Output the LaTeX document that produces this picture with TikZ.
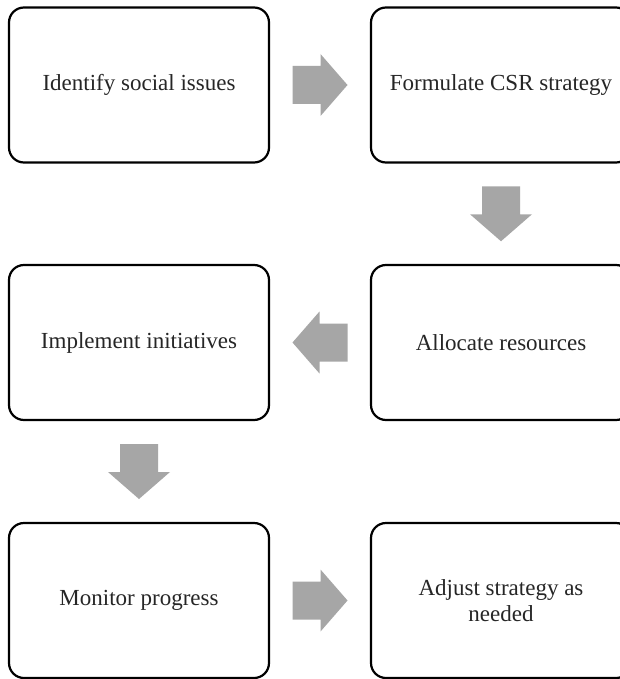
\documentclass[tikz,border=0pt]{standalone}
\usepackage{fontspec}
\setmainfont{Liberation Serif}
\usetikzlibrary{calc}
\definecolor{arrowgray}{RGB}{166,166,166}
\tikzset{
  stepbox/.style={draw=black, line width=2.2pt, rounded corners=15pt, fill=white,
    minimum width=260pt, minimum height=155pt, inner sep=0pt, align=center,
    font=\fontsize{23}{26}\selectfont, text=black!85},
  blockarrow/.pic={\fill[arrowgray] (-27.5,-19) -- (0.5,-19) -- (0.5,-31) -- (27.5,0) -- (0.5,31) -- (0.5,19) -- (-27.5,19) -- cycle;}
}
\begin{document}
\begin{tikzpicture}[x=1pt,y=-1pt]
\clip (0,0) rectangle (620,679);
\fill[white] (0,0) rectangle (620,679);
\node[stepbox] (b1) at (139,85) {Identify social issues};
\node[stepbox] (b2) at (501,85) {Formulate CSR strategy};
\node[stepbox] (b3) at (501,342.5) {Allocate resources};
\node[stepbox] (b4) at (139,342.5) {Implement initiatives};
\node[stepbox] (b5) at (139,600.5) {Monitor progress};
\node[stepbox] (b6) at (501,600.5) {Adjust strategy as\\needed};
\coordinate (m12) at ($(b1.east)!0.5!(b2.west)$);
\coordinate (m23) at ($(b2.south)!0.5!(b3.north)$);
\coordinate (m34) at ($(b3.west)!0.5!(b4.east)$);
\coordinate (m45) at ($(b4.south)!0.5!(b5.north)$);
\coordinate (m56) at ($(b5.east)!0.5!(b6.west)$);
\path (m12) pic {blockarrow};
\path (m23) pic[rotate=-90] {blockarrow};
\path (m34) pic[rotate=180] {blockarrow};
\path (m45) pic[rotate=-90] {blockarrow};
\path (m56) pic {blockarrow};
\end{tikzpicture}
\end{document}
